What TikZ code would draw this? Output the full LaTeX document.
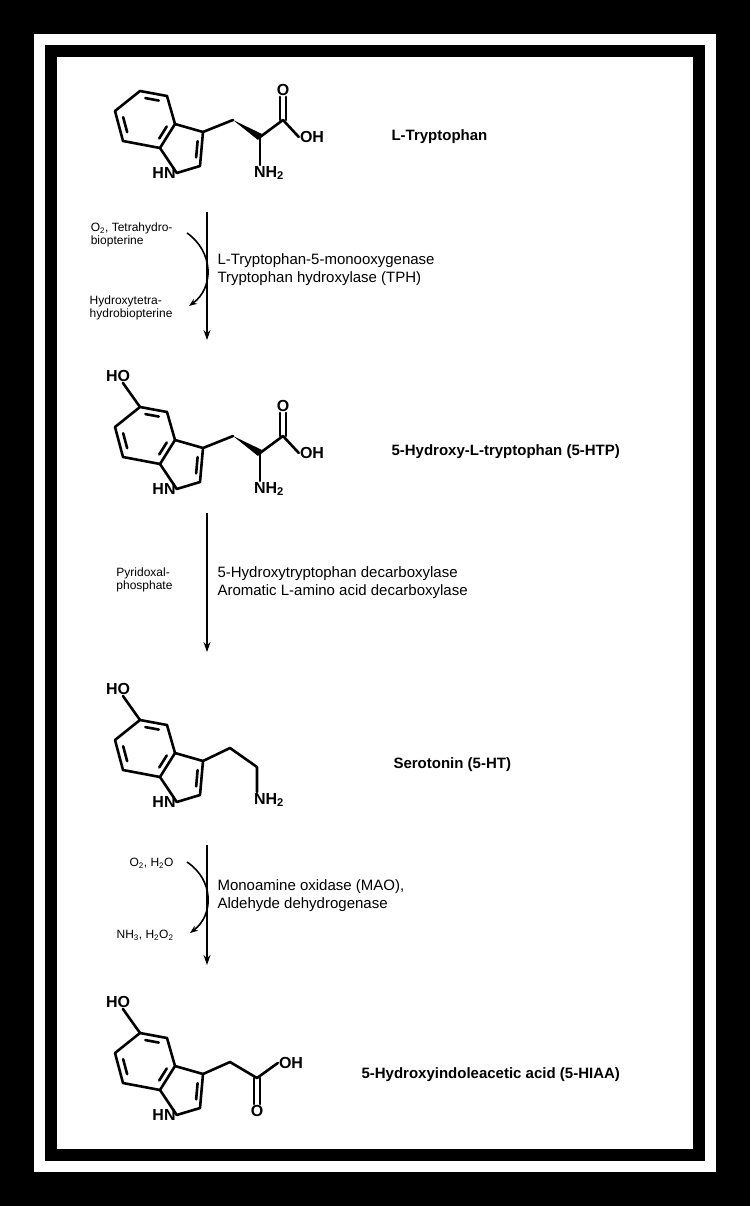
\documentclass[tikz,border=0pt]{standalone}
\usepackage{fontspec}
\setmainfont{Liberation Sans}
\usetikzlibrary{calc,arrows.meta}
\newcommand{\drawindole}[3]{% prefix, position, HO flag
\begin{scope}[shift={#2}]
\coordinate (#1a) at (0,0);
\coordinate (#1c4) at (-8,-28);
\coordinate (#1c5) at (-35,-33);
\coordinate (#1c6) at (-60,-13);
\coordinate (#1c7) at (-52,17);
\coordinate (#1c7a) at (-15,24);
\coordinate (#1c2) at (25,42);
\coordinate (#1c3) at (28,8);
\coordinate (#1bz) at (-28,-4);
\coordinate (#1pz) at (8,26);
\node[atom] (#1N) at (-11,49) {HN};
\draw[bond] (#1a)--(#1c4)--(#1c5)--(#1c6)--(#1c7)--(#1c7a)--cycle;
\draw[bond] (#1a)--(#1c3)--(#1c2)--(#1N.east)--(#1c7a);
\draw[bond] ($(#1c4)!.18!(#1c5)!.22!(#1bz)$)--($(#1c5)!.18!(#1c4)!.22!(#1bz)$);
\draw[bond] ($(#1c6)!.18!(#1c7)!.22!(#1bz)$)--($(#1c7)!.18!(#1c6)!.22!(#1bz)$);
\draw[bond] ($(#1a)!.18!(#1c7a)!.22!(#1bz)$)--($(#1c7a)!.18!(#1a)!.22!(#1bz)$);
\draw[bond] ($(#1c3)!.18!(#1c2)!.25!(#1pz)$)--($(#1c2)!.18!(#1c3)!.25!(#1pz)$);
\if1#3
\node[atom] (#1HO) at (-57,-64) {HO};
\draw[bond] (#1c5)--(#1HO);
\fi
\end{scope}}
\begin{document}
\begin{tikzpicture}[x=1pt,y=-1pt,
  bond/.style={line width=2.6pt,line cap=round,line join=round},
  atom/.style={font=\bfseries\fontsize{16}{16}\selectfont,inner sep=1pt},
  molname/.style={font=\bfseries\fontsize{15}{17}\selectfont,anchor=west},
  enz/.style={font=\fontsize{15}{18}\selectfont,anchor=west,align=left},
  cof/.style={font=\fontsize{12}{13}\selectfont,align=left},
  rxn/.style={line width=1.6pt,-{Stealth[length=10pt,width=7pt]}},
  side/.style={line width=1.6pt,-{Stealth[length=8pt,width=6pt]}}]
\useasboundingbox (0,0) rectangle (750,1206);
\fill[black] (0,0) rectangle (750,1206);
\fill[white] (34,34) rectangle (716,1172);
\fill[black] (45,45) rectangle (705,1161);
\fill[white] (57,57) rectangle (693,1149);

% molecule 1
\drawindole{m1}{(175,124)}{0}
\begin{scope}[shift={(175,124)}]
\coordinate (m1ch) at (58,-4);
\coordinate (m1ca) at (85,13);
\coordinate (m1cc) at (108,-4);
\node[atom] (m1O) at (108,-34) {O};
\node[atom] (m1OH) at (137,13) {OH};
\node[atom] (m1NH) at (94,49) {NH\textsubscript{2}};
\end{scope}
\draw[bond] (m1c3)--(m1ch);
\fill ($(m1ca)!3.6pt!90:(m1ch)$)--(m1ch)--($(m1ca)!3.6pt!-90:(m1ch)$)--cycle;
\draw[bond] (m1ca)--(m1cc)--(m1OH.west);
\draw[bond] (m1ca)--(m1ca|-m1NH.north);
\draw[bond] ($(m1cc)+(-3,0)$)--($(m1O.south)+(-3,0)$);
\draw[bond] ($(m1cc)+(3,0)$)--($(m1O.south)+(3,0)$);
\node[molname] (n1) at (388,137) {L-Tryptophan};

% molecule 2
\drawindole{m2}{(175,440)}{1}
\begin{scope}[shift={(175,440)}]
\coordinate (m2ch) at (58,-4);
\coordinate (m2ca) at (85,13);
\coordinate (m2cc) at (108,-4);
\node[atom] (m2O) at (108,-34) {O};
\node[atom] (m2OH) at (137,13) {OH};
\node[atom] (m2NH) at (94,49) {NH\textsubscript{2}};
\end{scope}
\draw[bond] (m2c3)--(m2ch);
\fill ($(m2ca)!3.6pt!90:(m2ch)$)--(m2ch)--($(m2ca)!3.6pt!-90:(m2ch)$)--cycle;
\draw[bond] (m2ca)--(m2cc)--(m2OH.west);
\draw[bond] (m2ca)--(m2ca|-m2NH.north);
\draw[bond] ($(m2cc)+(-3,0)$)--($(m2O.south)+(-3,0)$);
\draw[bond] ($(m2cc)+(3,0)$)--($(m2O.south)+(3,0)$);
\node[molname] (n2) at (388,452) {5-Hydroxy-L-tryptophan (5-HTP)};

% molecule 3
\drawindole{m3}{(175,753)}{1}
\begin{scope}[shift={(175,753)}]
\coordinate (m3ch) at (55,-5);
\coordinate (m3ch2) at (82,14);
\node[atom] (m3NH) at (94,47) {NH\textsubscript{2}};
\end{scope}
\draw[bond] (m3c3)--(m3ch)--(m3ch2)--(m3ch2|-m3NH.north);
\node[molname] (n3) at (390,765) {Serotonin (5-HT)};

% molecule 4
\drawindole{m4}{(175,1066)}{1}
\begin{scope}[shift={(175,1066)}]
\coordinate (m4ch) at (55,-4);
\coordinate (m4cc) at (82,12);
\node[atom] (m4OH) at (116,-3) {OH};
\node[atom] (m4O) at (82,45) {O};
\end{scope}
\draw[bond] (m4c3)--(m4ch)--(m4cc)--(m4OH.west);
\draw[bond] ($(m4cc)+(-3,0)$)--($(m4O.north)+(-3,0)$);
\draw[bond] ($(m4cc)+(3,0)$)--($(m4O.north)+(3,0)$);
\node[molname] (n4) at (358,1075) {5-Hydroxyindoleacetic acid (5-HIAA)};

% reaction 1
\coordinate (r1s) at (207,212);
\coordinate (r1e) at (207,340);
\draw[rxn] (r1s)--(r1e);
\node[enz] (e1) at (214,270) {L-Tryptophan-5-monooxygenase\\Tryptophan hydroxylase (TPH)};
\node[cof,anchor=east] (c1a) at (176,235) {O\textsubscript{2}, Tetrahydro-\\biopterine};
\node[cof,anchor=east] (c1b) at (176,308) {Hydroxytetra-\\hydrobiopterine};
\coordinate (k1s) at (187,233);
\coordinate (k1e) at (189,306);
\draw[side] (k1s) .. controls (214,252) and (214,288) .. (k1e);

% reaction 2
\coordinate (r2s) at (207,513);
\coordinate (r2e) at (207,652);
\draw[rxn] (r2s)--(r2e);
\node[enz] (e2) at (214,583) {5-Hydroxytryptophan decarboxylase\\Aromatic L-amino acid decarboxylase};
\node[cof,anchor=east] (c2) at (176,580) {Pyridoxal-\\phosphate};

% reaction 3
\coordinate (r3s) at (207,845);
\coordinate (r3e) at (207,965);
\draw[rxn] (r3s)--(r3e);
\node[enz] (e3) at (214,896) {Monoamine oxidase (MAO),\\Aldehyde dehydrogenase};
\node[cof,anchor=east] (c3a) at (177,863) {O\textsubscript{2}, H\textsubscript{2}O};
\node[cof,anchor=east] (c3b) at (177,935) {NH\textsubscript{3}, H\textsubscript{2}O\textsubscript{2}};
\coordinate (k3s) at (187,862);
\coordinate (k3e) at (190,933);
\draw[side] (k3s) .. controls (214,880) and (214,915) .. (k3e);
\end{tikzpicture}
\end{document}
